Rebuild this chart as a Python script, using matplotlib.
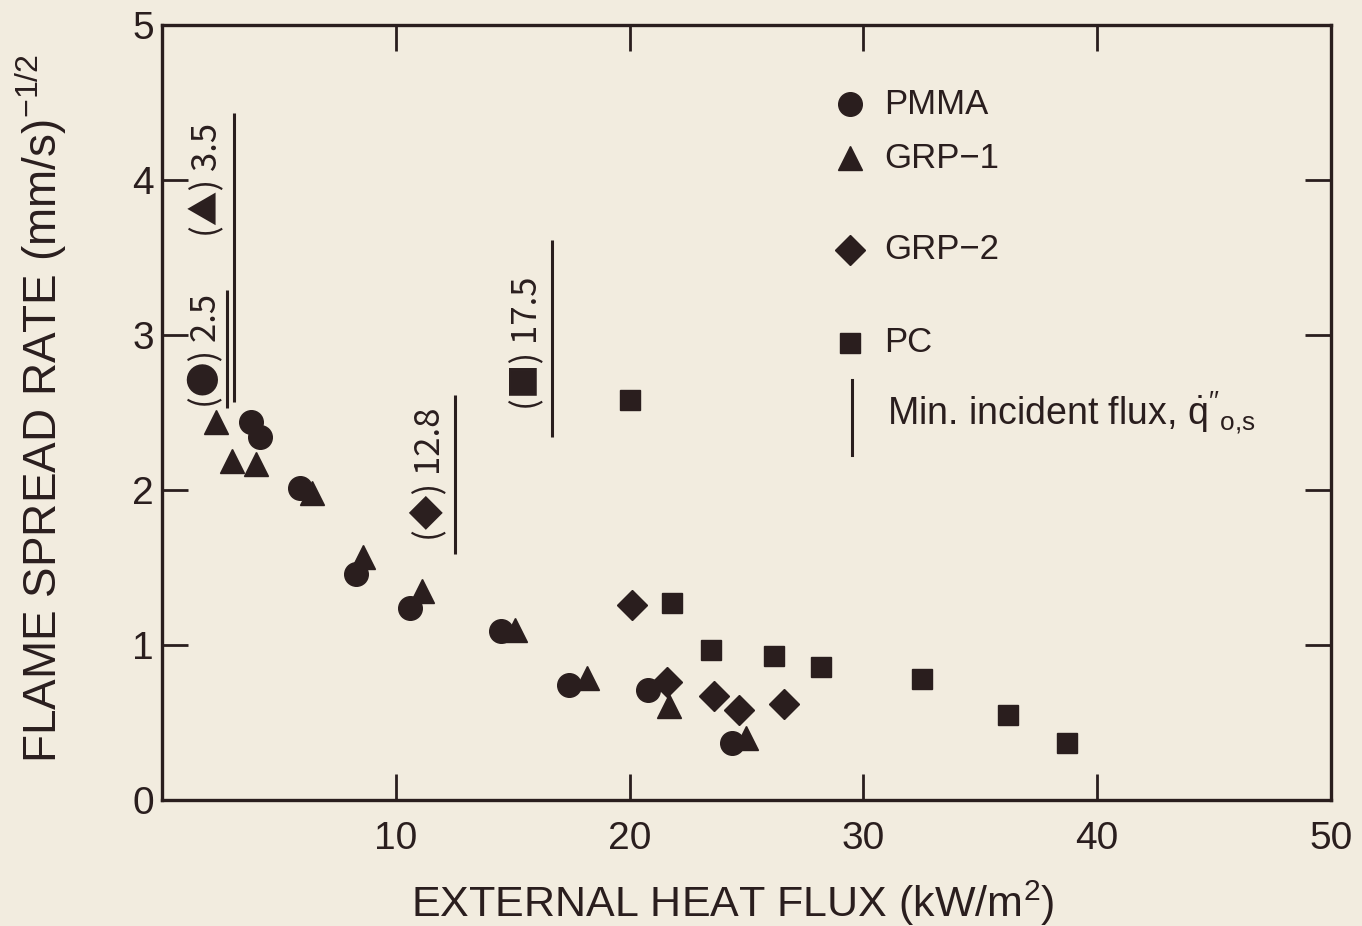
import matplotlib
matplotlib.use('Agg')
import matplotlib.pyplot as plt

# data (kW/m2, (mm/s)^-1/2)
pmma_x = [3.8, 4.2, 5.9, 8.3, 10.6, 14.5, 17.4, 20.8, 24.4]
pmma_y = [2.44, 2.34, 2.01, 1.46, 1.24, 1.09, 0.74, 0.71, 0.37]

grp1_x = [2.3, 3.0, 4.0, 6.4, 8.6, 11.1, 15.1, 18.2, 21.7, 25.0]
grp1_y = [2.44, 2.19, 2.17, 1.98, 1.57, 1.35, 1.10, 0.79, 0.61, 0.40]

grp2_x = [20.1, 21.6, 23.6, 24.7, 26.6]
grp2_y = [1.26, 0.76, 0.67, 0.58, 0.62]

pc_x = [20.0, 21.8, 23.5, 26.2, 28.2, 32.5, 36.2, 38.7]
pc_y = [2.58, 1.27, 0.97, 0.93, 0.86, 0.78, 0.55, 0.37]

# minimum incident flux markers (vertical bars + rotated labels)
min_labels = ['(\u25cf) 2.5', '(\u25b2) 3.5', '(\u25c6) 12.8', '(\u25a0) 17.5']
min_line_x = [2.77, 3.07, 12.53, 16.67]
min_line_y0 = [2.53, 2.57, 1.59, 2.34]
min_line_y1 = [3.29, 4.43, 2.61, 3.61]
min_text_x = [1.88, 1.95, 11.4, 15.65]
min_text_y = [2.90, 4.00, 2.10, 2.95]

xticks = [0, 10, 20, 30, 40, 50]
xticklabels = ['', '10', '20', '30', '40', '50']
yticks = [0, 1, 2, 3, 4, 5]

bg = '#f2ecdf'
ink = '#2a1e1e'
fam = ['Liberation Sans', 'DejaVu Sans']
ann_fam = ['Noto Sans CJK JP', 'DejaVu Sans']

plt.rcParams['font.family'] = fam
plt.rcParams['mathtext.fontset'] = 'custom'
plt.rcParams['mathtext.rm'] = 'Liberation Sans'
plt.rcParams['mathtext.sf'] = 'Liberation Sans'
plt.rcParams['mathtext.it'] = 'Liberation Sans'
plt.rcParams['text.color'] = ink

fig = plt.figure(figsize=(13.62, 9.26), dpi=100, facecolor=bg)
ax = fig.add_axes([0.119, 0.136, 0.858, 0.837], facecolor=bg)

ax.plot(pmma_x, pmma_y, 'o', ms=17, color=ink, mec=ink)
ax.plot(grp1_x, grp1_y, '^', ms=17, color=ink, mec=ink)
ax.plot(grp2_x, grp2_y, 'D', ms=15, color=ink, mec=ink)
ax.plot(pc_x, pc_y, 's', ms=15, color=ink, mec=ink)

for lx, y0, y1 in zip(min_line_x, min_line_y0, min_line_y1):
    ax.plot([lx, lx], [y0, y1], color=ink, lw=2.2, solid_capstyle='butt')
for tx, ty, lab in zip(min_text_x, min_text_y, min_labels):
    ax.text(tx, ty, lab, rotation=90, ha='center', va='center', fontsize=25,
            color=ink, family=ann_fam)

# hand-placed legend (uneven spacing like the original)
leg = [('o', 17, 'PMMA', 0.898), ('^', 17, 'GRP\u22121', 0.828),
       ('D', 15, 'GRP\u22122', 0.710), ('s', 15, 'PC', 0.590)]
for m, s, lab, yy in leg:
    ax.plot([0.5885], [yy], m, ms=s, color=ink, transform=ax.transAxes, clip_on=False)
    ax.text(0.6176, yy, lab, transform=ax.transAxes, va='center', ha='left',
            fontsize=25, color=ink)
ax.plot([0.590, 0.590], [0.445, 0.542], color=ink, lw=2.2, transform=ax.transAxes)
ax.text(0.620, 0.499, r"Min. incident flux, $\dot{q}''_{\mathsf{o{,}s}}$",
        transform=ax.transAxes, va='center', ha='left', fontsize=27, color=ink)

ax.set_xlim(0, 50)
ax.set_ylim(0, 5)
ax.set_xticks(xticks)
ax.set_xticklabels(xticklabels)
ax.set_yticks(yticks)
ax.set_yticklabels([str(v) for v in yticks])
ax.tick_params(direction='in', length=19, width=2, color=ink, labelcolor=ink,
               labelsize=28, top=True, right=True)
ax.tick_params(axis='x', pad=15)
ax.tick_params(axis='y', pad=6)
for sp in ax.spines.values():
    sp.set_linewidth(2.4)
    sp.set_color(ink)

ax.set_xlabel('EXTERNAL HEAT FLUX (kW/m$^2$)', fontsize=31, color=ink)
ax.xaxis.set_label_coords(0.488, -0.101)
ax.set_ylabel('FLAME SPREAD RATE (mm/s)$^{-1/2}$', fontsize=33, color=ink)
ax.yaxis.set_label_coords(-0.080, 0.505)

fig.savefig('out.png', dpi=100, facecolor=bg)
